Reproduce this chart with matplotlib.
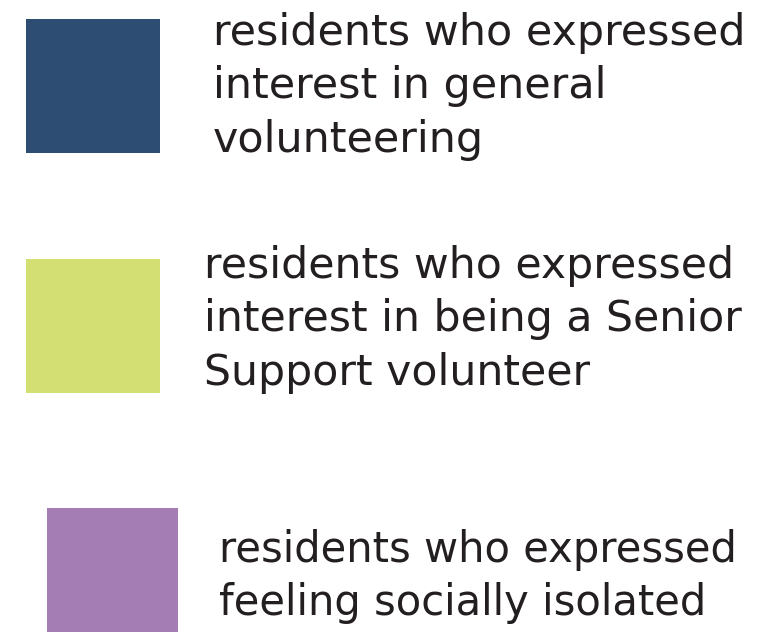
import matplotlib
matplotlib.use("Agg")
import matplotlib.pyplot as plt
from matplotlib.patches import Rectangle

labels = [
    ["residents who expressed", "interest in general", "volunteering"],
    ["residents who expressed", "interest in being a Senior", "Support volunteer"],
    ["residents who expressed", "feeling socially isolated"],
]
colors = ["#2D4E72", "#D4DF73", "#A57DB5"]

# layout (pixel coords)
boxes = [(26, 19, 134, 134), (26, 259, 134, 134), (47, 508, 131, 124)]
text_x = [213, 204, 219]
baseline0 = [45, 278, 562]
font_sizes = [30.9, 30.7, 30.1]
line_h = 53.3

fig = plt.figure(figsize=(7.64, 6.32), dpi=100)
ax = fig.add_axes([0, 0, 1, 1])
ax.set_xlim(0, 764)
ax.set_ylim(632, 0)
ax.axis("off")

for i, (lab, col) in enumerate(zip(labels, colors)):
    x, y, w, h = boxes[i]
    ax.add_patch(Rectangle((x, y), w, h, facecolor=col, edgecolor="none"))
    for j, line in enumerate(lab):
        ax.text(text_x[i], baseline0[i] + j * line_h, line, fontsize=font_sizes[i],
                family="DejaVu Sans", color="#231f20", va="baseline", ha="left")

fig.savefig("out.png", dpi=100)
